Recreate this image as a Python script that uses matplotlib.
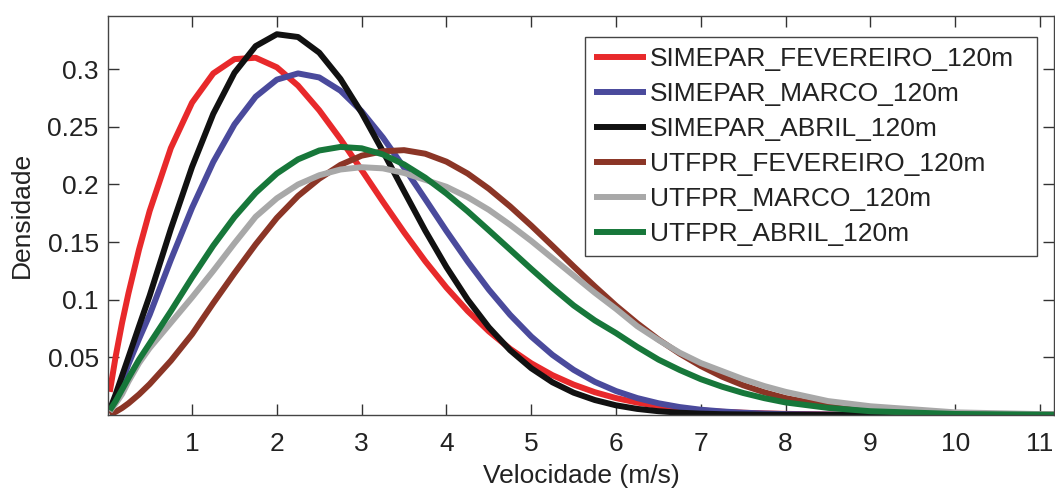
import matplotlib
matplotlib.use('Agg')
import matplotlib.pyplot as plt

plt.rcParams['font.family'] = ['Liberation Sans', 'DejaVu Sans']

# velocity grid (m/s) and densities
velocidade = [0.03, 0.1, 0.175, 0.25, 0.375, 0.5,
              0.75, 1.0, 1.25, 1.5, 1.75, 2.0, 2.25, 2.5, 2.75, 3.0,
              3.25, 3.5, 3.75, 4.0, 4.25, 4.5, 4.75, 5.0, 5.25, 5.5,
              5.75, 6.0, 6.25, 6.5, 6.75, 7.0, 7.25, 7.5, 7.75, 8.0,
              8.5, 9.0, 10.0, 11.2]

simepar_fev = [0.020, 0.051, 0.080, 0.1055, 0.1436, 0.177,
               0.2316, 0.271, 0.2964, 0.3088, 0.310, 0.3017, 0.2858, 0.2644, 0.2394, 0.2125,
               0.1851, 0.1585, 0.1334, 0.1105, 0.0902, 0.0725, 0.0574, 0.0448, 0.0345, 0.0263,
               0.0197, 0.0146, 0.0107, 0.0077, 0.0055, 0.0039, 0.0027, 0.0019, 0.0013, 0.0009,
               0.0004, 0.0002, 0.0, 0.0]
simepar_mar = [0.0035, 0.015, 0.029, 0.044, 0.066, 0.0869,
               0.1346, 0.1797, 0.2195, 0.2521, 0.2762, 0.2910, 0.2964, 0.2929, 0.2814, 0.2635,
               0.2408, 0.2147, 0.1873, 0.1596, 0.1332, 0.1087, 0.0869, 0.0680, 0.0521, 0.0391,
               0.0287, 0.0207, 0.0146, 0.0101, 0.0068, 0.0045, 0.0030, 0.0019, 0.0012, 0.0007,
               0.0003, 0.0001, 0.0, 0.0]
simepar_abr = [0.0045, 0.018, 0.034, 0.050, 0.077, 0.1035,
               0.1614, 0.2152, 0.2613, 0.2969, 0.3201, 0.3304, 0.3280, 0.3144, 0.2916, 0.2622,
               0.2288, 0.1941, 0.1599, 0.1283, 0.1001, 0.0760, 0.0562, 0.0405, 0.0283, 0.0193,
               0.0129, 0.0083, 0.0052, 0.0032, 0.0019, 0.0011, 0.0006, 0.0004, 0.0002, 0.0001,
               0.0, 0.0, 0.0, 0.0]
utfpr_fev = [0.0005, 0.0027, 0.006, 0.010, 0.0178, 0.0267,
             0.047, 0.070, 0.097, 0.123, 0.148, 0.171, 0.190, 0.205, 0.217, 0.225,
             0.2288, 0.2298, 0.2267, 0.2198, 0.2095, 0.1963, 0.1810, 0.1643, 0.1467, 0.1289,
             0.1115, 0.0948, 0.0795, 0.0655, 0.0532, 0.0424, 0.0332, 0.0257, 0.0196, 0.0146,
             0.0078, 0.0039, 0.0008, 0.0001]
utfpr_mar = [0.003, 0.010, 0.018, 0.029, 0.045, 0.058,
             0.080, 0.102, 0.125, 0.149, 0.172, 0.188, 0.200, 0.208, 0.213, 0.215,
             0.214, 0.210, 0.204, 0.198, 0.189, 0.178, 0.165, 0.151, 0.136, 0.121,
             0.106, 0.092, 0.077, 0.065, 0.054, 0.045, 0.038, 0.031, 0.025, 0.020,
             0.012, 0.0075, 0.0022, 0.0004]
utfpr_abr = [0.004, 0.012, 0.022, 0.032, 0.048, 0.062,
             0.090, 0.1192, 0.1469, 0.1717, 0.1927, 0.2095, 0.2218, 0.2295, 0.2326, 0.2314,
             0.2261, 0.2174, 0.2059, 0.1921, 0.1767, 0.1602, 0.1435, 0.1267, 0.1104, 0.0950,
             0.082, 0.071, 0.059, 0.048, 0.039, 0.031, 0.0245, 0.019, 0.0145, 0.0108,
             0.0061, 0.0032, 0.0008, 0.0001]

series = [simepar_fev, simepar_mar, simepar_abr, utfpr_fev, utfpr_mar, utfpr_abr]
labels = ['SIMEPAR_FEVEREIRO_120m', 'SIMEPAR_MARCO_120m', 'SIMEPAR_ABRIL_120m',
          'UTFPR_FEVEREIRO_120m', 'UTFPR_MARCO_120m', 'UTFPR_ABRIL_120m']
colors = ['#e8292b', '#4a4a9c', '#111111', '#8b3526', '#a8a8a8', '#17773a']

xticks = [1, 2, 3, 4, 5, 6, 7, 8, 9, 10, 11]
yticks = [0.05, 0.1, 0.15, 0.2, 0.25, 0.3]
ytick_labels = ['0.05', '0.1', '0.15', '0.2', '0.25', '0.3']

fig = plt.figure(figsize=(10.55, 4.92), dpi=100)
ax = fig.add_axes([0.1027, 0.1567, 0.8964, 0.8114])

for y, lab, col in zip(series, labels, colors):
    ax.plot(velocidade, y, color=col, lw=4.3, label=lab,
            solid_capstyle='butt', solid_joinstyle='round')

ax.set_xlim(0.013, 11.165)
ax.set_ylim(0, 0.3465)
ax.set_xticks(xticks)
ax.set_xticklabels([str(t) for t in xticks])
ax.set_yticks(yticks)
ax.set_yticklabels(ytick_labels)

ax.tick_params(direction='in', length=8, width=1, colors='#333333', labelcolor='#222222',
               labelsize=19, top=True, right=True)
ax.tick_params(axis='x', pad=12)
ax.tick_params(axis='y', pad=7)
for s in ax.spines.values():
    s.set_color('#444444')
    s.set_linewidth(1)

# x label placed by baseline so it stays inside the figure
fig.text(581 / 1055, 9 / 492, 'Velocidade (m/s)', fontsize=19, color='#222222',
         ha='center', va='baseline')
ax.set_ylabel('Densidade', fontsize=19, color='#222222', labelpad=10)

leg = ax.legend(loc='upper left', bbox_to_anchor=(0.504, 0.9459, 0.4783, 0.0),
                mode='expand', fontsize=19, handlelength=1.95, handletextpad=0.15,
                labelspacing=0.42, borderpad=0.36, borderaxespad=0, fancybox=False,
                frameon=True, framealpha=1)
leg.get_frame().set_edgecolor('#444444')
leg.get_frame().set_linewidth(1)
for t in leg.get_texts():
    t.set_color('#222222')

fig.savefig('out.png', dpi=100)
